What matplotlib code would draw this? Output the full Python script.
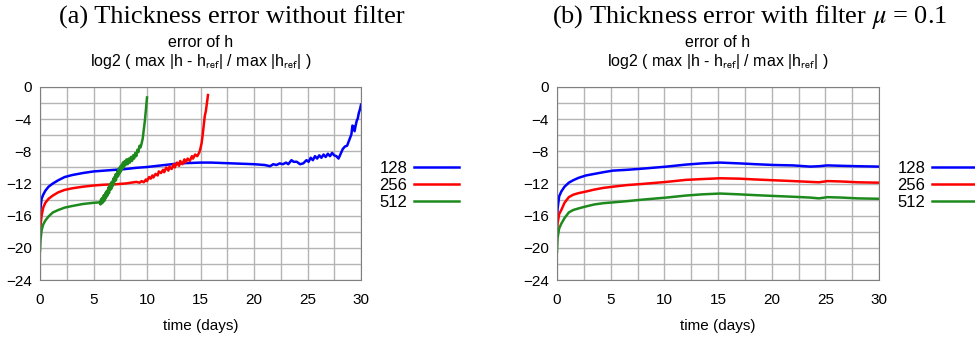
import matplotlib
matplotlib.use("Agg")
import matplotlib.pyplot as plt

# (a) without filter
t_blue_a = [0, 0.05, 0.15, 0.3, 0.5, 0.8, 1.2, 1.7, 2.3, 3, 4, 5, 6, 7, 8, 9, 10, 11, 12, 13,
            14, 15, 16, 17, 18, 19, 20, 20.5, 21, 21.5, 21.8, 22.1, 22.4, 22.7, 23.0, 23.2,
            23.5, 23.7, 24.0, 24.3, 24.6, 24.9, 25.1, 25.3, 25.5, 25.7, 25.9, 26.1, 26.3,
            26.5, 26.7, 26.9, 27.1, 27.3, 27.5, 27.7, 27.9, 28.1, 28.3, 28.5, 28.7, 28.9,
            29.1, 29.2, 29.3, 29.4, 29.5, 29.6, 29.7, 29.8, 29.9, 30]
blue_a = [-16.5, -15.0, -13.9, -13.4, -12.9, -12.4, -12.0, -11.6, -11.2, -10.95, -10.7, -10.5,
          -10.4, -10.3, -10.2, -10.05, -9.95, -9.8, -9.65, -9.5, -9.45, -9.4, -9.4, -9.45,
          -9.5, -9.55, -9.6, -9.65, -9.7, -9.85, -9.6, -9.7, -9.5, -9.6, -9.4, -9.6, -9.1,
          -9.3, -9.3, -9.6, -9.5, -9.1, -9.3, -8.8, -9.1, -8.6, -8.9, -8.5, -8.8, -8.4, -8.7,
          -8.3, -8.6, -8.2, -8.5, -8.6, -8.9, -8.3, -7.7, -7.4, -7.3, -6.6, -5.9, -4.8, -4.9,
          -5.5, -4.8, -4.2, -3.9, -3.2, -2.8, -2.2]

t_red_a = [0, 0.05, 0.15, 0.3, 0.5, 0.8, 1.2, 1.7, 2.3, 3, 4, 5, 6, 7, 8, 8.5,
           9.0, 9.3, 9.5, 9.7, 9.9, 10.0, 10.2, 10.35, 10.5, 10.6, 10.8, 11.0, 11.1, 11.3,
           11.5, 11.6, 11.8, 12.0, 12.1, 12.3, 12.5, 12.6, 12.8, 13.0, 13.1, 13.3, 13.5,
           13.6, 13.8, 14.0, 14.2, 14.3, 14.5, 14.7, 14.9, 15.0, 15.1, 15.2, 15.3, 15.4,
           15.5, 15.6, 15.7]
red_a = [-18.4, -17.2, -16.0, -15.0, -14.4, -13.9, -13.5, -13.1, -12.8, -12.6, -12.4, -12.25,
         -12.15, -12.1, -12.0, -11.9,
         -11.8, -11.9, -11.7, -11.85, -11.5, -11.7, -11.2, -11.4, -11.0, -11.25, -10.8,
         -11.0, -10.5, -10.7, -10.3, -10.6, -10.0, -10.4, -9.9, -10.2, -9.6, -10.0, -9.4,
         -9.8, -9.2, -9.6, -9.0, -9.4, -8.9, -9.2, -8.6, -8.9, -8.4, -8.6, -8.1, -7.6,
         -7.0, -6.0, -4.8, -3.6, -3.0, -2.0, -1.0]

t_green_a = [0, 0.05, 0.15, 0.3, 0.5, 0.8, 1.2, 1.7, 2.3, 3, 4, 5, 5.5,
             5.6, 5.65, 5.7, 5.75, 5.8, 5.85, 5.9, 5.95, 6.0, 6.05, 6.1, 6.15, 6.2, 6.25,
             6.3, 6.35, 6.4, 6.45, 6.5, 6.55, 6.6, 6.65, 6.7, 6.75, 6.8, 6.85, 6.9, 6.95,
             7.0, 7.05, 7.1, 7.15, 7.2, 7.25, 7.3, 7.35, 7.4, 7.45, 7.5, 7.55, 7.6, 7.65,
             7.7, 7.75, 7.8, 7.85, 7.9, 7.95, 8.0, 8.1, 8.2, 8.3, 8.4, 8.5, 8.6, 8.7, 8.8,
             8.9, 9.0, 9.1, 9.2, 9.3, 9.4, 9.5, 9.6, 9.7, 9.8, 9.9, 10.0]
green_a = [-20.4, -19.0, -17.8, -17.1, -16.6, -16.1, -15.6, -15.3, -15.0, -14.8, -14.55, -14.4,
           -14.35,
           -14.3, -14.6, -14.0, -14.5, -13.8, -14.4, -14.0, -13.5, -14.2, -13.4, -13.9,
           -13.1, -13.7, -12.9, -13.5, -13.0, -12.5, -13.2, -12.3, -12.8, -12.0, -12.7,
           -11.8, -12.4, -11.9, -11.4, -12.1, -11.2, -11.7, -10.9, -11.6, -10.8, -11.2,
           -10.5, -11.1, -10.2, -10.8, -10.0, -10.6, -9.8, -10.4, -9.7, -10.1, -9.4, -10.0,
           -9.3, -9.8, -9.2, -9.7, -9.0, -9.6, -8.9, -9.4, -8.7, -9.2, -8.5, -8.9, -8.2,
           -8.6, -7.8, -8.1, -7.3, -7.5, -7.0, -6.4, -5.3, -4.2, -2.8, -1.3]

# (b) with filter mu = 0.1
t_b = [0, 0.05, 0.2, 0.4, 0.7, 1.1, 1.5, 2.0, 2.7, 3.5, 4.3, 5.2, 6.5, 8, 10.2, 12, 13.5,
       15.2, 17, 18.5, 20.2, 22, 23.6, 24.4, 25.2, 26.5, 28, 30]
blue_b = [-16.5, -15.2, -13.6, -13.0, -12.4, -11.9, -11.6, -11.3, -11.0, -10.8, -10.6, -10.4,
          -10.3, -10.15, -9.9, -9.65, -9.5, -9.4, -9.5, -9.6, -9.7, -9.75, -9.9, -9.85,
          -9.75, -9.8, -9.85, -9.9]
red_b = [-18.4, -17.0, -15.8, -15.3, -14.4, -13.7, -13.4, -13.2, -13.0, -12.75, -12.55,
         -12.4, -12.2, -12.05, -11.8, -11.55, -11.45, -11.35, -11.4, -11.5, -11.6, -11.7,
         -11.8, -11.85, -11.7, -11.75, -11.85, -11.9]
green_b = [-20.5, -18.8, -17.6, -17.0, -16.3, -15.6, -15.3, -15.1, -14.85, -14.6, -14.45,
           -14.35, -14.2, -14.0, -13.75, -13.5, -13.35, -13.25, -13.35, -13.45, -13.55,
           -13.65, -13.75, -13.85, -13.7, -13.75, -13.85, -13.9]

labels = ["128", "256", "512"]
colors = ["#0000ff", "#ff0000", "#1e8a1e"]

titles = ["(a) Thickness error without filter",
          "(b) Thickness error with filter $\\mu$ = 0.1"]
sub1 = "error of h"
sub2 = "log2 ( max |h - h$_{\\mathrm{ref}}$| / max |h$_{\\mathrm{ref}}$| )"

fig = plt.figure(figsize=(9.75, 3.4), dpi=100)
ax1 = fig.add_axes([40/975, 60/340, 321/975, 193/340])
ax2 = fig.add_axes([557/975, 60/340, 322/975, 193/340])

series = [
    [(t_blue_a, blue_a), (t_red_a, red_a), (t_green_a, green_a)],
    [(t_b, blue_b), (t_b, red_b), (t_b, green_b)],
]
title_x = [232/975, 750/975]
leg_x = [371/975, 889/975]

for i, ax in enumerate([ax1, ax2]):
    for (t, v), c, lab in zip(series[i], colors, labels):
        ax.plot(t, v, color=c, lw=1.8, label=lab)
    ax.set_xlim(0, 30)
    ax.set_ylim(-24, 0)
    ax.set_xticks(range(0, 31, 5))
    ax.set_yticks(range(-24, 1, 4))
    ax.set_xticks([x + 2.5 for x in range(0, 30, 5)], minor=True)
    ax.set_yticks(range(-22, 0, 4), minor=True)
    ax.grid(True, which="both", color="#b4b4b4", lw=1.0)
    ax.set_axisbelow(True)
    for s in ax.spines.values():
        s.set_color("#808080")
    ax.tick_params(which="both", length=0, labelsize=11)
    ax.tick_params(axis="y", pad=6)
    ax.tick_params(axis="x", pad=9)
    for lbl in ax.get_xticklabels() + ax.get_yticklabels():
        lbl.set_fontfamily("Liberation Sans")
    ax.set_xlabel("time (days)", fontsize=11, family="Liberation Sans", labelpad=9)

    cx = (ax.get_position().x0 + ax.get_position().x1) / 2
    fig.text(title_x[i], 0.95, titles[i], ha="center", va="center", fontsize=19,
             family="Liberation Serif", math_fontfamily="stix")
    fig.text(cx, 0.876, sub1, ha="center", va="center", fontsize=11.5,
             family="Liberation Sans")
    fig.text(cx, 0.818, sub2, ha="center", va="center", fontsize=11.5,
             family="Liberation Sans", math_fontfamily="stixsans")

    ax.legend(loc="upper left", bbox_to_anchor=(leg_x[i], 0.55),
              bbox_transform=fig.transFigure, frameon=False, markerfirst=False,
              borderpad=0, labelspacing=0.1, handlelength=2.7, handletextpad=0.4,
              prop={"family": "Liberation Sans", "size": 12})

fig.savefig("out.png", dpi=100)
